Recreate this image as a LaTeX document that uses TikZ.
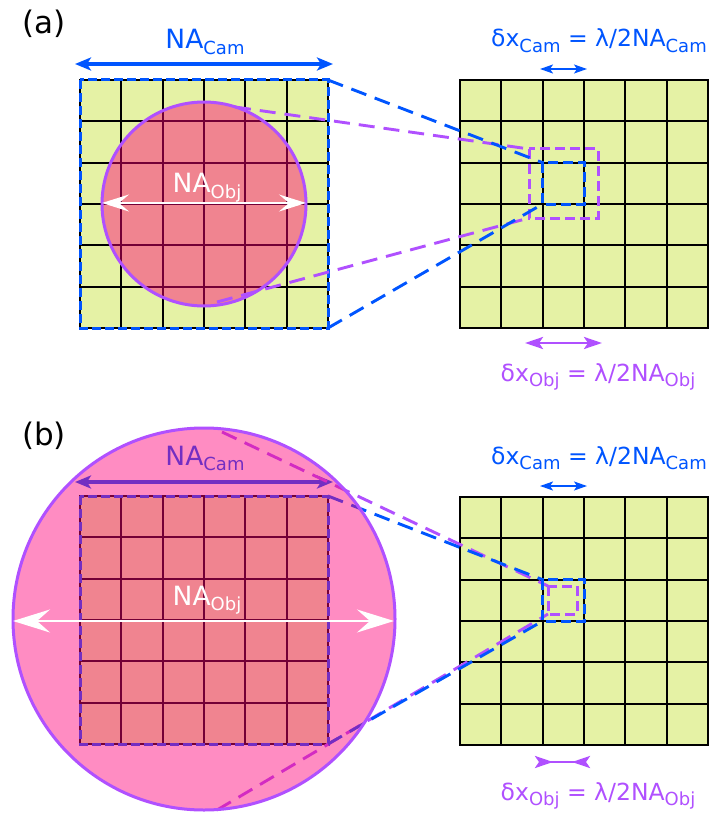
\documentclass[tikz,border=0pt]{standalone}
\usepackage{fontspec}
\setmainfont{DejaVu Sans}
\usetikzlibrary{arrows.meta}
\definecolor{cellfill}{RGB}{229,242,165}
\definecolor{camblue}{RGB}{0,85,255}
\definecolor{objpurple}{RGB}{176,80,255}
\definecolor{overlaypink}{RGB}{255,0,120}
\newcommand\lowsub[1]{\raisebox{-5.5pt}{\fontsize{18}{18}\selectfont #1}}
\newcommand\bigtxt{\fontsize{26.5}{26.5}\selectfont}
\newcommand\eqtxt{\fontsize{23.5}{23.5}\selectfont}
\newcommand\cellgrid[2]{%
  \fill[cellfill] (#1,#2) rectangle ++(248,248);
  \foreach \k in {1,...,5}{%
    \draw[gridline] ({#1+\k*41.333},#2) -- ++(0,248);
    \draw[gridline] (#1,{#2+\k*41.333}) -- ++(248,0);}
  \draw[gridline] (#1,#2) rectangle ++(248,248);}
\tikzset{
  bighead/.tip={Stealth[length=16pt,width=13pt,inset=4pt]},
  smallhead/.tip={Stealth[length=13pt,width=9pt,inset=3pt]},
  objhead/.tip={Stealth[length=18pt,width=12pt,inset=4pt]},
  revhead/.tip={Stealth[reversed,length=18pt,width=12pt,inset=4pt]},
  whitehead/.tip={Stealth[length=27pt,width=17pt,inset=10pt]},
  whiteheadb/.tip={Stealth[length=37pt,width=23pt,inset=13pt]},
}
\begin{document}
\begin{tikzpicture}[x=1pt,y=-1pt,
  gridline/.style={line width=2.3pt, black},
  campath/.style={camblue, line width=2.9pt, dash pattern=on 16pt off 9pt},
  objpath/.style={objpurple, line width=2.9pt, dash pattern=on 16pt off 9pt},
  camsq/.style={camblue, line width=3pt, dash pattern=on 10pt off 5pt},
  objsq/.style={objpurple, line width=3pt, dash pattern=on 10pt off 5pt},
  outline/.style={camblue, line width=3pt, dash pattern=on 9pt off 4pt},
  lbl/.style={anchor=base, inner sep=0pt},
]
\useasboundingbox (0,0) rectangle (710,813);

% ---------------- panel (a) ----------------
\node[lbl, font=\fontsize{31}{31}\selectfont] (labela) at (44,34) {(a)};
\cellgrid{80}{80}
\draw[outline] (80,80) rectangle (328,328);
\draw[camblue, line width=3.2pt, {bighead}-{bighead}] (75,64) -- (333,64);
\node[lbl, camblue] (aNAcam) at (205,49) {\bigtxt NA\lowsub{Cam}};

\fill[overlaypink, fill opacity=0.45] (204,204) circle[radius=102];
\draw[objpurple, line width=3pt] (204,204) circle[radius=102];

\cellgrid{460}{80}
\draw[objsq] (529,149) rectangle (598,218);
\draw[camsq] (542.7,162.7) rectangle (584,204);

\coordinate (aTR) at (328,80);
\coordinate (aBR) at (328,328);
\coordinate (aCT) at (235,107);
\coordinate (aCB) at (217,302);
\coordinate (aBlueTL) at (542.7,162.7);
\coordinate (aBlueBL) at (542.7,204);
\coordinate (aPurTL) at (529,149);
\coordinate (aPurBL) at (529,218);
\draw[objpath] (aCT) -- (aPurTL);
\draw[objpath] (aCB) -- (aPurBL);
\draw[campath] (aTR) -- (aBlueTL);
\draw[campath] (aBR) -- (aBlueBL);

\draw[white, line width=1.4pt, {whitehead}-{whitehead}] (102,203) -- (306,203);
\node[lbl, white] (aNAobj) at (207,193) {\bigtxt NA\lowsub{Obj}};

\draw[camblue, line width=1.8pt, {smallhead}-{smallhead}] (540,69) -- (587,69);
\node[lbl, camblue] (aDxCam) at (599,47) {\eqtxt δx\lowsub{Cam} = λ/2NA\lowsub{Cam}};
\draw[objpurple, line width=2.8pt, {objhead}-{objhead}] (525,343) -- (602,343);
\node[lbl, objpurple] (aDxObj) at (598,381) {\eqtxt δx\lowsub{Obj} = λ/2NA\lowsub{Obj}};

% ---------------- panel (b) ----------------
\node[lbl, font=\fontsize{31}{31}\selectfont] (labelb) at (44,445) {(b)};
\cellgrid{80}{496}
\draw[outline] (80,496) rectangle (328,744);
\draw[camblue, line width=3.2pt, {bighead}-{bighead}] (75,482) -- (333,482);
\node[lbl, camblue] (bNAcam) at (205,465) {\bigtxt NA\lowsub{Cam}};

\cellgrid{460}{497}
\coordinate (bTR) at (328,496);
\coordinate (bBR) at (328,744);
\coordinate (bCT) at (222,432);
\coordinate (bCB) at (217,810);
\coordinate (bBlueTL) at (542.7,579.7);
\coordinate (bBlueBL) at (542.7,621);
\coordinate (bPurTL) at (548,586);
\coordinate (bPurBL) at (548,614);
\draw[objpath] (bCT) -- (bPurTL);
\draw[objpath] (bCB) -- (bPurBL);
\draw[campath] (bTR) -- (bBlueTL);
\draw[campath] (bBR) -- (bBlueBL);
\draw[camsq] (542.7,579.7) rectangle (584,621);
\draw[objsq] (548,586) rectangle (577,614);

\fill[overlaypink, fill opacity=0.45] (204,619) circle[radius=191];
\draw[objpurple, line width=3pt] (204,619) circle[radius=191];

\draw[white, line width=1.8pt, {whiteheadb}-{whiteheadb}] (13,621) -- (394,621);
\node[lbl, white] (bNAobj) at (207,605) {\bigtxt NA\lowsub{Obj}};

\draw[camblue, line width=1.8pt, {smallhead}-{smallhead}] (540,486) -- (587,486);
\node[lbl, camblue] (bDxCam) at (599,464) {\eqtxt δx\lowsub{Cam} = λ/2NA\lowsub{Cam}};
\draw[objpurple, line width=2.8pt, {revhead}-{revhead}] (535,762) -- (590,762);
\node[lbl, objpurple] (bDxObj) at (598,800) {\eqtxt δx\lowsub{Obj} = λ/2NA\lowsub{Obj}};
\end{tikzpicture}
\end{document}
